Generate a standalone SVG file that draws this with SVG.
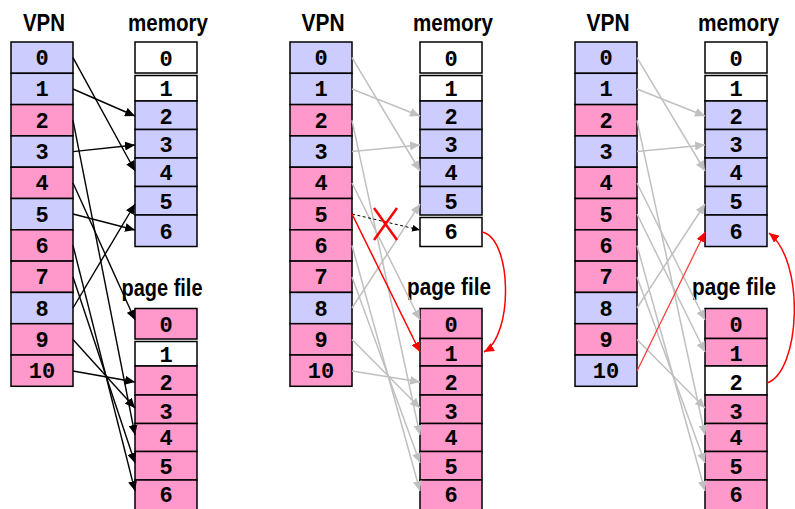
<svg xmlns="http://www.w3.org/2000/svg" width="795" height="509" viewBox="0 0 795 509">
<defs>
<style>
.c{stroke:#000;stroke-width:1.5}
.L{fill:#ccccff}
.P{fill:#ff99cc}
.W{fill:#ffffff}
.n{font-family:"Liberation Mono","DejaVu Sans Mono",monospace;font-weight:bold;font-size:22px;text-anchor:middle;fill:#000}
.t{font-family:"Liberation Sans Narrow","Liberation Sans",Arial,sans-serif;font-weight:bold;font-size:23px;text-anchor:middle;fill:#000}
.k{stroke:#000;stroke-width:1.4;fill:none}
.g{stroke:#c0c0c0;stroke-width:1.5;fill:none}
.r{stroke:#ff0000;stroke-width:1.5;fill:none}
</style>
<marker id="ak" markerUnits="userSpaceOnUse" markerWidth="11" markerHeight="9" refX="10" refY="4.5" orient="auto"><path d="M0,0 L10,4.5 L0,9 z" fill="#000"/></marker>
<marker id="ag" markerUnits="userSpaceOnUse" markerWidth="11" markerHeight="9" refX="10" refY="4.5" orient="auto"><path d="M0,0 L10,4.5 L0,9 z" fill="#c0c0c0"/></marker>
<marker id="ar" markerUnits="userSpaceOnUse" markerWidth="11" markerHeight="9" refX="10" refY="4.5" orient="auto"><path d="M0,0 L10,4.5 L0,9 z" fill="#ff0000"/></marker>
<marker id="ad" markerUnits="userSpaceOnUse" markerWidth="9" markerHeight="7" refX="8" refY="3.5" orient="auto"><path d="M0,0 L8,3.5 L0,7 z" fill="#000"/></marker>
</defs>
<rect width="795" height="509" fill="#fff"/>

<!-- Panel 1 -->
<g id="p1-vpn">
<text class="t" x="44" y="31" textLength="42" lengthAdjust="spacingAndGlyphs">VPN</text>
<rect class="c L" x="11" y="42" width="62" height="31.3"/><text class="n" x="42" y="65">0</text>
<rect class="c L" x="11" y="73.3" width="62" height="31.3"/><text class="n" x="42" y="96.4">1</text>
<rect class="c P" x="11" y="104.6" width="62" height="31.3"/><text class="n" x="42" y="127.7">2</text>
<rect class="c L" x="11" y="135.9" width="62" height="31.3"/><text class="n" x="42" y="159">3</text>
<rect class="c P" x="11" y="167.2" width="62" height="31.3"/><text class="n" x="42" y="190.3">4</text>
<rect class="c L" x="11" y="198.5" width="62" height="31.3"/><text class="n" x="42" y="221.6">5</text>
<rect class="c P" x="11" y="229.8" width="62" height="31.3"/><text class="n" x="42" y="252.9">6</text>
<rect class="c P" x="11" y="261.1" width="62" height="31.3"/><text class="n" x="42" y="284.2">7</text>
<rect class="c L" x="11" y="292.4" width="62" height="31.3"/><text class="n" x="42" y="315.5">8</text>
<rect class="c P" x="11" y="323.7" width="62" height="31.3"/><text class="n" x="42" y="346.8">9</text>
<rect class="c P" x="11" y="355" width="62" height="31.3"/><text class="n" x="42" y="378.1">10</text>
</g>
<g id="p1-memory">
<text class="t" x="168" y="31" textLength="80" lengthAdjust="spacingAndGlyphs">memory</text>
<rect class="c W" x="135" y="42" width="62" height="31"/><text class="n" x="166" y="66">0</text>
<rect class="c W" x="135" y="75.5" width="62" height="25.5"/><text class="n" x="166" y="96">1</text>
<rect class="c L" x="135" y="101" width="62" height="28.5"/><text class="n" x="166" y="124">2</text>
<rect class="c L" x="135" y="129.5" width="62" height="28.5"/><text class="n" x="166" y="152">3</text>
<rect class="c L" x="135" y="158" width="62" height="28.5"/><text class="n" x="166" y="180">4</text>
<rect class="c L" x="135" y="186.5" width="62" height="28.5"/><text class="n" x="166" y="209">5</text>
<rect class="c L" x="135" y="215" width="62" height="31.5"/><text class="n" x="166" y="239">6</text>
</g>
<g id="p1-pagefile">
<text class="t" x="162" y="296" textLength="81" lengthAdjust="spacingAndGlyphs">page file</text>
<rect class="c P" x="135" y="308.5" width="62" height="30.5"/><text class="n" x="166" y="332">0</text>
<rect class="c W" x="135" y="341.5" width="62" height="24.5"/><text class="n" x="166" y="362">1</text>
<rect class="c P" x="135" y="366" width="62" height="29"/><text class="n" x="166" y="390">2</text>
<rect class="c P" x="135" y="395" width="62" height="28.5"/><text class="n" x="166" y="419">3</text>
<rect class="c P" x="135" y="423.5" width="62" height="28"/><text class="n" x="166" y="445">4</text>
<rect class="c P" x="135" y="451.5" width="62" height="28.5"/><text class="n" x="166" y="474">5</text>
<rect class="c P" x="135" y="480" width="62" height="32"/><text class="n" x="166" y="502">6</text>
</g>

<!-- Panel 2 -->
<g id="p2-vpn">
<text class="t" x="323" y="31" textLength="43" lengthAdjust="spacingAndGlyphs">VPN</text>
<rect class="c L" x="290" y="42" width="62" height="31.3"/><text class="n" x="321" y="65">0</text>
<rect class="c L" x="290" y="73.3" width="62" height="31.3"/><text class="n" x="321" y="96.4">1</text>
<rect class="c P" x="290" y="104.6" width="62" height="31.3"/><text class="n" x="321" y="127.7">2</text>
<rect class="c L" x="290" y="135.9" width="62" height="31.3"/><text class="n" x="321" y="159">3</text>
<rect class="c P" x="290" y="167.2" width="62" height="31.3"/><text class="n" x="321" y="190.3">4</text>
<rect class="c P" x="290" y="198.5" width="62" height="31.3"/><text class="n" x="321" y="221.6">5</text>
<rect class="c P" x="290" y="229.8" width="62" height="31.3"/><text class="n" x="321" y="252.9">6</text>
<rect class="c P" x="290" y="261.1" width="62" height="31.3"/><text class="n" x="321" y="284.2">7</text>
<rect class="c L" x="290" y="292.4" width="62" height="31.3"/><text class="n" x="321" y="315.5">8</text>
<rect class="c P" x="290" y="323.7" width="62" height="31.3"/><text class="n" x="321" y="346.8">9</text>
<rect class="c P" x="290" y="355" width="62" height="31.3"/><text class="n" x="321" y="378.1">10</text>
</g>
<g id="p2-memory">
<text class="t" x="453" y="31" textLength="80" lengthAdjust="spacingAndGlyphs">memory</text>
<rect class="c W" x="420" y="42" width="62" height="31"/><text class="n" x="451" y="66">0</text>
<rect class="c W" x="420" y="75.5" width="62" height="25.5"/><text class="n" x="451" y="96">1</text>
<rect class="c L" x="420" y="101" width="62" height="28.5"/><text class="n" x="451" y="124">2</text>
<rect class="c L" x="420" y="129.5" width="62" height="28.5"/><text class="n" x="451" y="152">3</text>
<rect class="c L" x="420" y="158" width="62" height="28.5"/><text class="n" x="451" y="180">4</text>
<rect class="c L" x="420" y="186.5" width="62" height="28.5"/><text class="n" x="451" y="209">5</text>
<rect class="c W" x="420" y="217.5" width="62" height="29"/><text class="n" x="451" y="239">6</text>
</g>
<g id="p2-pagefile">
<text class="t" x="449" y="295" textLength="84" lengthAdjust="spacingAndGlyphs">page file</text>
<rect class="c P" x="420" y="308.5" width="62" height="30"/><text class="n" x="451" y="332">0</text>
<rect class="c P" x="420" y="338.5" width="62" height="27.5"/><text class="n" x="451" y="361">1</text>
<rect class="c P" x="420" y="366" width="62" height="29"/><text class="n" x="451" y="390">2</text>
<rect class="c P" x="420" y="395" width="62" height="28.5"/><text class="n" x="451" y="419">3</text>
<rect class="c P" x="420" y="423.5" width="62" height="28"/><text class="n" x="451" y="445">4</text>
<rect class="c P" x="420" y="451.5" width="62" height="28.5"/><text class="n" x="451" y="474">5</text>
<rect class="c P" x="420" y="480" width="62" height="32"/><text class="n" x="451" y="502">6</text>
</g>

<!-- Panel 3 -->
<g id="p3-vpn">
<text class="t" x="608" y="31" textLength="43" lengthAdjust="spacingAndGlyphs">VPN</text>
<rect class="c L" x="575" y="42" width="62" height="31.3"/><text class="n" x="606" y="65">0</text>
<rect class="c L" x="575" y="73.3" width="62" height="31.3"/><text class="n" x="606" y="96.4">1</text>
<rect class="c P" x="575" y="104.6" width="62" height="31.3"/><text class="n" x="606" y="127.7">2</text>
<rect class="c L" x="575" y="135.9" width="62" height="31.3"/><text class="n" x="606" y="159">3</text>
<rect class="c P" x="575" y="167.2" width="62" height="31.3"/><text class="n" x="606" y="190.3">4</text>
<rect class="c P" x="575" y="198.5" width="62" height="31.3"/><text class="n" x="606" y="221.6">5</text>
<rect class="c P" x="575" y="229.8" width="62" height="31.3"/><text class="n" x="606" y="252.9">6</text>
<rect class="c P" x="575" y="261.1" width="62" height="31.3"/><text class="n" x="606" y="284.2">7</text>
<rect class="c L" x="575" y="292.4" width="62" height="31.3"/><text class="n" x="606" y="315.5">8</text>
<rect class="c P" x="575" y="323.7" width="62" height="31.3"/><text class="n" x="606" y="346.8">9</text>
<rect class="c L" x="575" y="355" width="62" height="31.3"/><text class="n" x="606" y="378.1">10</text>
</g>
<g id="p3-memory">
<text class="t" x="738.5" y="31" textLength="81" lengthAdjust="spacingAndGlyphs">memory</text>
<rect class="c W" x="705" y="42" width="62" height="31"/><text class="n" x="736" y="66">0</text>
<rect class="c W" x="705" y="75.5" width="62" height="25.5"/><text class="n" x="736" y="96">1</text>
<rect class="c L" x="705" y="101" width="62" height="28.5"/><text class="n" x="736" y="124">2</text>
<rect class="c L" x="705" y="129.5" width="62" height="28.5"/><text class="n" x="736" y="152">3</text>
<rect class="c L" x="705" y="158" width="62" height="28.5"/><text class="n" x="736" y="180">4</text>
<rect class="c L" x="705" y="186.5" width="62" height="28.5"/><text class="n" x="736" y="209">5</text>
<rect class="c L" x="705" y="215" width="62" height="31.5"/><text class="n" x="736" y="239">6</text>
</g>
<g id="p3-pagefile">
<text class="t" x="734" y="295" textLength="84" lengthAdjust="spacingAndGlyphs">page file</text>
<rect class="c P" x="705" y="308.5" width="62" height="30"/><text class="n" x="736" y="332">0</text>
<rect class="c P" x="705" y="338.5" width="62" height="27.5"/><text class="n" x="736" y="361">1</text>
<rect class="c W" x="705" y="366" width="62" height="29"/><text class="n" x="736" y="390">2</text>
<rect class="c P" x="705" y="395" width="62" height="28.5"/><text class="n" x="736" y="419">3</text>
<rect class="c P" x="705" y="423.5" width="62" height="28"/><text class="n" x="736" y="445">4</text>
<rect class="c P" x="705" y="451.5" width="62" height="28.5"/><text class="n" x="736" y="474">5</text>
<rect class="c P" x="705" y="480" width="62" height="32"/><text class="n" x="736" y="502">6</text>
</g>

<g id="connectors">
<!-- panel 1 -->
<g class="k" marker-end="url(#ak)">
<line x1="73" y1="57.6" x2="135" y2="171"/>
<line x1="73" y1="89" x2="135" y2="116"/>
<line x1="73" y1="151.6" x2="135" y2="145"/>
<line x1="73" y1="214" x2="135" y2="230"/>
<line x1="73" y1="308" x2="135" y2="204"/>
<line x1="73" y1="120.3" x2="135" y2="435"/>
<line x1="73" y1="183" x2="135" y2="320"/>
<line x1="73" y1="245.5" x2="135" y2="491"/>
<line x1="73" y1="277" x2="135" y2="463"/>
<line x1="73" y1="339.5" x2="135" y2="408"/>
<line x1="73" y1="371" x2="135" y2="382"/>
</g>
<!-- panel 2 -->
<g class="g" marker-end="url(#ag)">
<line x1="352" y1="57.6" x2="420" y2="171"/>
<line x1="352" y1="89" x2="420" y2="116"/>
<line x1="352" y1="151.6" x2="420" y2="145"/>
<line x1="352" y1="308" x2="420" y2="204"/>
<line x1="352" y1="120.3" x2="420" y2="435"/>
<line x1="352" y1="183" x2="420" y2="320"/>
<line x1="352" y1="245.5" x2="420" y2="491"/>
<line x1="352" y1="277" x2="420" y2="463"/>
<line x1="352" y1="339.5" x2="420" y2="408"/>
<line x1="352" y1="371" x2="420" y2="382"/>
</g>
<line x1="352" y1="214" x2="420" y2="230" stroke="#000" stroke-width="1" stroke-dasharray="3,2.5" marker-end="url(#ad)"/>
<line class="r" x1="352" y1="214" x2="420" y2="352" marker-end="url(#ar)"/>
<path class="r" d="M482,232 C512,238 514,335 484,352" marker-end="url(#ar)"/>
<g stroke="#ff0000" stroke-width="2.5">
<line x1="374" y1="208" x2="397" y2="240"/>
<line x1="397" y1="208" x2="374" y2="240"/>
</g>
<!-- panel 3 -->
<g class="g" marker-end="url(#ag)">
<line x1="637" y1="57.6" x2="705" y2="171"/>
<line x1="637" y1="89" x2="705" y2="116"/>
<line x1="637" y1="151.6" x2="705" y2="145"/>
<line x1="637" y1="308" x2="705" y2="204"/>
<line x1="637" y1="120.3" x2="705" y2="435"/>
<line x1="637" y1="183" x2="705" y2="320"/>
<line x1="637" y1="214" x2="705" y2="352"/>
<line x1="637" y1="245.5" x2="705" y2="491"/>
<line x1="637" y1="277" x2="705" y2="463"/>
<line x1="637" y1="339.5" x2="705" y2="408"/>
</g>
<line x1="637" y1="371" x2="705" y2="232" stroke="#ff4040" stroke-width="1.3" marker-end="url(#ar)"/>
<path class="r" d="M767,383 C800,372 806,262 769,233" marker-end="url(#ar)"/>
</g>
</svg>
